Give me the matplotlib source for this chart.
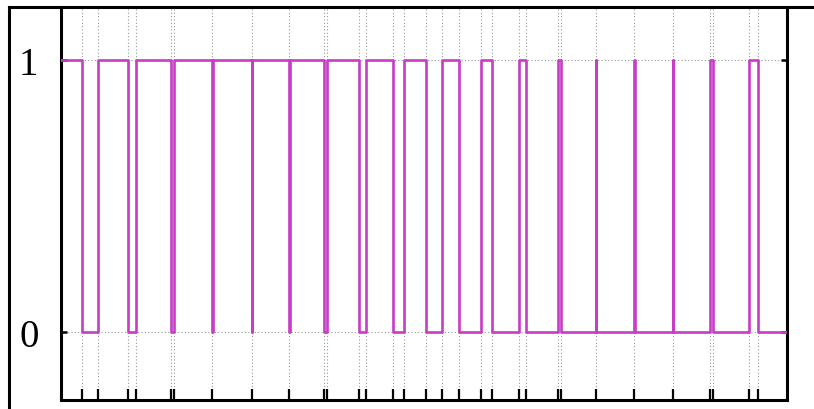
import matplotlib.pyplot as plt
from matplotlib.lines import Line2D

# ---------------------------------------------------------------------------
# Data: switching times of a binary signal and the state held after each one
# ---------------------------------------------------------------------------

edge_times = [0.0, 3.00, 5.18, 9.23, 10.41, 15.17, 15.55, 20.88, 20.95,
              26.31, 26.38, 31.45, 31.52, 36.31, 36.72, 41.09, 42.05,
              45.73, 47.33, 50.32, 52.56, 54.86, 57.85, 59.45, 63.17,
              64.05, 68.54, 68.91, 73.69, 73.76, 78.97, 79.04, 84.30,
              84.37, 89.44, 89.89, 94.81, 96.01, 100.0]
edge_states = [1, 0, 1, 0, 1, 0, 1, 0, 1,
               0, 1, 0, 1, 0, 1, 0, 1,
               0, 1, 0, 1, 0, 1, 0, 1,
               0, 1, 0, 1, 0, 1, 0, 1,
               0, 1, 0, 1, 0, 0]

tick_times = [3.00, 5.18, 9.23, 10.41, 15.17, 15.55, 20.9, 26.35, 31.5,
              36.31, 36.72, 41.09, 42.05, 45.73, 47.33, 50.32, 52.56,
              54.86, 57.85, 59.45, 63.17, 64.05, 68.54, 68.91, 73.72,
              79.0, 84.33, 89.44, 89.89, 94.81, 96.01]
y_levels = [0, 1]
y_labels = ["0", "1"]

# ---------------------------------------------------------------------------
# Figure
# ---------------------------------------------------------------------------

W, H = 814, 410
fig = plt.figure(figsize=(W / 100, H / 100), dpi=100)
fig.patch.set_facecolor("white")

ax_l, ax_r, ax_b, ax_t = 60.7, 786.7, 400.5, 7.5
ax = fig.add_axes([ax_l / W, 1 - ax_b / H, (ax_r - ax_l) / W, (ax_b - ax_t) / H])

ax.step(edge_times, edge_states, where="post", color="#c83cc8", linewidth=1.9,
        zorder=3)

ax.set_xlim(0, 100)
ax.set_ylim(-0.246, 1.195)

ax.set_xticks(tick_times)
ax.set_xticklabels([])
ax.set_yticks(y_levels)
ax.set_yticklabels(y_labels, family="Liberation Serif", fontsize=28)

ax.grid(True, color="#999999", linestyle=(0, (1, 2)), linewidth=0.8)

ax.tick_params(axis="x", direction="in", length=8, width=1.6, color="black",
               top=False)
ax.tick_params(axis="y", direction="in", length=4, width=1.8, color="black",
               right=True, pad=16)

for side in ["left", "bottom", "right"]:
    ax.spines[side].set_linewidth(2.2)
ax.spines["top"].set_visible(False)

# outer picture frame (top and left edges)
fig.add_artist(Line2D([9 / W, 1.0], [1 - 7.5 / H, 1 - 7.5 / H],
                      transform=fig.transFigure, color="black", linewidth=2.2))
fig.add_artist(Line2D([9 / W, 9 / W], [0.0, 1 - 7.5 / H],
                      transform=fig.transFigure, color="black", linewidth=2.2))

plt.savefig("out.png", dpi=100)
